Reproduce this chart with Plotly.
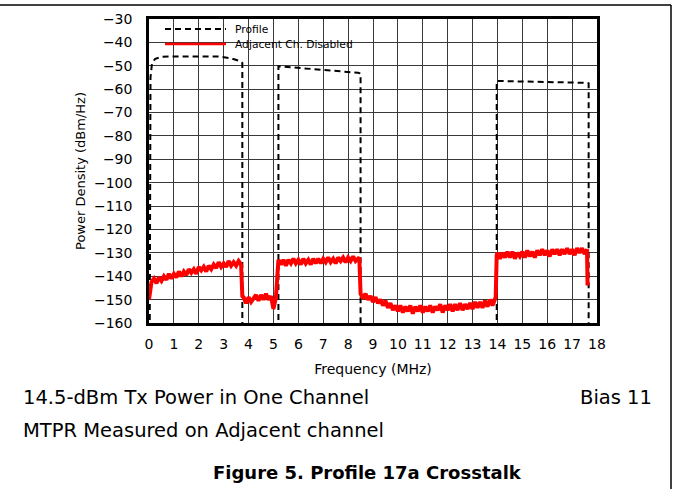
import plotly.graph_objects as go

# ---------------- data ----------------
profile_freq = [0.03, 0.06, 0.12, 0.25, 0.5, 1.0, 2.8, 3.3, 3.65, 3.75, 3.75, None,
                5.2, 5.2, 8.4, 8.5, 8.5, None,
                13.97, 13.97, 17.6, 17.664, 17.664]
profile_db = [-163, -55, -49, -47, -46.2, -46, -46, -46.8, -48, -48.8, -163, None,
              -163, -50.2, -53, -53.3, -163, None,
              -163, -56.5, -57.3, -57.5, -163]

adj_freq_1 = [0.0, 0.1, 0.2, 0.3, 0.4, 0.5, 0.6, 0.7, 0.8, 0.9, 1.0, 1.1, 1.2, 1.3, 1.4, 1.5,
              1.6, 1.7, 1.8, 1.9, 2.0, 2.1, 2.2, 2.3, 2.4, 2.5, 2.6, 2.7, 2.8, 2.9, 3.0, 3.1,
              3.2, 3.3, 3.4, 3.5, 3.6, 3.7]
adj_db_1 = [-150, -142.5, -141, -143, -140.5, -142, -140, -141.5, -139, -141, -139, -140.5,
            -138, -140, -138, -139.5, -137, -138.5, -137, -139, -136, -137.5, -136, -138,
            -135.5, -137, -135, -136.5, -134, -136, -134.5, -136, -133.5, -135.5, -134, -135.5,
            -133.5, -135]

adj_freq_2 = [3.75, 3.8, 3.9, 4.0, 4.1, 4.2, 4.3, 4.4, 4.5, 4.6, 4.7, 4.8, 4.9, 5.0, 5.1]
adj_db_2 = [-148.5, -149, -151.5, -149, -151, -149.5, -148, -150.5, -148, -150, -147.5, -150,
            -148.5, -154, -149]

adj_freq_3 = [5.2, 5.3, 5.4, 5.5, 5.6, 5.7, 5.8, 5.9, 6.0, 6.1, 6.2, 6.3, 6.4, 6.5, 6.6, 6.7,
              6.8, 6.9, 7.0, 7.1, 7.2, 7.3, 7.4, 7.5, 7.6, 7.7, 7.8, 7.9, 8.0, 8.1, 8.2, 8.3, 8.45]
adj_db_3 = [-133, -135, -133, -135.5, -133, -134.5, -132.5, -134.5, -133, -135, -132.5, -134.5,
            -133, -135, -132.5, -134.5, -132.5, -134.5, -132.5, -134, -132, -134, -132.5,
            -134.5, -132, -133.5, -132, -134, -132, -133.5, -131.5, -133.5, -132]

adj_freq_4 = [8.5, 8.6, 8.7, 8.8, 8.9, 9.0, 9.1, 9.2, 9.3, 9.4, 9.5, 9.6, 9.7, 9.8, 9.9, 10.0,
              10.1, 10.2, 10.3, 10.4, 10.5, 10.6, 10.7, 10.8, 10.9, 11.0, 11.1, 11.2, 11.3,
              11.4, 11.5, 11.6, 11.7, 11.8, 11.9, 12.0, 12.1, 12.2, 12.3, 12.4, 12.5, 12.6,
              12.7, 12.8, 12.9, 13.0, 13.1, 13.2, 13.3, 13.4, 13.5, 13.6, 13.7, 13.8, 13.93]
adj_db_4 = [-147.5, -149.5, -147.5, -150, -148.5, -151, -149, -151.5, -150, -152.5, -150.5,
            -153.5, -151.5, -154.5, -152.5, -155, -152.5, -155.5, -153, -155, -152.5, -156,
            -153, -155, -152.5, -155.5, -153, -155, -152.5, -155.5, -153, -154.5, -152, -155.5,
            -152.5, -154.5, -152, -155, -152, -154.5, -151.5, -154.5, -152, -154, -151.5, -154,
            -151, -153.5, -151, -153.5, -150.5, -153, -150, -152.5, -149]

adj_freq_5 = [13.97, 14.0, 14.1, 14.2, 14.3, 14.4, 14.5, 14.6, 14.7, 14.8, 14.9, 15.0, 15.1,
              15.2, 15.3, 15.4, 15.5, 15.6, 15.7, 15.8, 15.9, 16.0, 16.1, 16.2, 16.3, 16.4,
              16.5, 16.6, 16.7, 16.8, 16.9, 17.0, 17.1, 17.2, 17.3, 17.4, 17.5, 17.6, 17.62]
adj_db_5 = [-131, -130, -132.5, -130, -132, -129.5, -132, -129.5, -132.5, -130, -131.5, -129.5,
            -132, -129, -131.5, -129.5, -132, -129, -131, -128.5, -131, -129, -131.5, -128.5,
            -130.5, -128.5, -131, -128.5, -130.5, -128, -130.5, -128.5, -131, -128, -130,
            -128, -130.5, -128.5, -144]

adj_freq = adj_freq_1 + adj_freq_2 + adj_freq_3 + adj_freq_4 + adj_freq_5
adj_db = adj_db_1 + adj_db_2 + adj_db_3 + adj_db_4 + adj_db_5

x_ticks = list(range(0, 19))
y_ticks = list(range(-160, -29, 10))
y_ticktext = [("\u2212" + str(-v)) if v < 0 else str(v) for v in y_ticks]

FONT = "DejaVu Sans, sans-serif"

fig = go.Figure()
fig.add_trace(go.Scatter(
    x=profile_freq, y=profile_db, mode="lines", name="Profile",
    line=dict(color="black", width=2, dash="6px,4px"), connectgaps=False,
    cliponaxis=False, showlegend=False))
fig.add_trace(go.Scatter(
    x=adj_freq, y=adj_db, mode="lines", name="Adjacent Ch. Disabled",
    line=dict(color="#ff0000", width=4), showlegend=False))

# plot area in pixels: x 149..597, y 19..323
L, R, T, B = 149, 597, 19, 323
W, H = R - L, B - T


def px(xp):
    return (xp - L) / W


def py(yp):
    return (B - yp) / H


shapes = [
    # legend background
    dict(type="rect", xref="paper", yref="paper", x0=px(151), x1=px(361), y0=py(51), y1=py(22),
         fillcolor="white", line=dict(width=0), layer="between"),
    # legend samples
    dict(type="line", xref="paper", yref="paper", x0=px(165), x1=px(226), y0=py(29), y1=py(29),
         line=dict(color="black", width=2, dash="6px,4px")),
    dict(type="line", xref="paper", yref="paper", x0=px(165), x1=px(226), y0=py(44), y1=py(44),
         line=dict(color="#ff0000", width=2.5)),
    # page frame lines
    dict(type="line", xref="paper", yref="paper", x0=px(0), x1=px(671), y0=py(5), y1=py(5),
         line=dict(color="black", width=1.5)),
    dict(type="line", xref="paper", yref="paper", x0=px(671), x1=px(671), y0=py(5), y1=py(489),
         line=dict(color="black", width=1.5)),
]

annotations = [
    dict(text="Profile", xref="paper", yref="paper", x=px(233), y=py(29), xanchor="left",
         yanchor="middle", showarrow=False, font=dict(family=FONT, size=10.7, color="black")),
    dict(text="Adjacent Ch. Disabled", xref="paper", yref="paper", x=px(233), y=py(44),
         xanchor="left", yanchor="middle", showarrow=False,
         font=dict(family=FONT, size=10.7, color="black")),
    dict(text="14.5-dBm Tx Power in One Channel", xref="paper", yref="paper", x=px(21),
         y=py(397), xanchor="left", yanchor="middle", showarrow=False,
         font=dict(family=FONT, size=19.5, color="black")),
    dict(text="Bias 11", xref="paper", yref="paper", x=px(654), y=py(397), xanchor="right",
         yanchor="middle", showarrow=False, font=dict(family=FONT, size=19.5, color="black")),
    dict(text="MTPR Measured on Adjacent channel", xref="paper", yref="paper", x=px(21),
         y=py(430), xanchor="left", yanchor="middle", showarrow=False,
         font=dict(family=FONT, size=19.5, color="black")),
    dict(text="<b>Figure 5. Profile 17a Crosstalk</b>", xref="paper", yref="paper", x=px(367),
         y=py(472), xanchor="center", yanchor="middle", showarrow=False,
         font=dict(family=FONT, size=18, color="black")),
]

fig.update_layout(
    width=673, height=489,
    margin=dict(l=L, r=673 - R, t=T, b=489 - B),
    paper_bgcolor="white", plot_bgcolor="white",
    font=dict(family=FONT, color="black"),
    shapes=shapes, annotations=annotations,
    showlegend=False,
)
fig.update_xaxes(
    range=[0, 18], tickmode="array", tickvals=x_ticks, ticktext=[str(v) for v in x_ticks],
    showgrid=True, gridcolor="#3a3a3a", gridwidth=1, zeroline=False,
    showline=True, linecolor="black", linewidth=2.5, mirror=True, ticks="",
    ticklabelstandoff=6, tickfont=dict(size=14, family=FONT, color="black"),
    title=dict(text="Frequency (MHz)", font=dict(size=14, family=FONT, color="black"),
               standoff=14),
)
fig.update_yaxes(
    range=[-160, -30], tickmode="array", tickvals=y_ticks, ticktext=y_ticktext,
    showgrid=True, gridcolor="#3a3a3a", gridwidth=1, zeroline=False,
    showline=True, linecolor="black", linewidth=2.5, mirror=True, ticks="",
    ticklabelstandoff=11, tickfont=dict(size=14, family=FONT, color="black"),
    title=dict(text="Power Density (dBm/Hz)", font=dict(size=13, family=FONT, color="black"),
               standoff=6),
)

fig.write_html("out.html", config={"displayModeBar": False},
               post_script="document.body.style.margin='0';")
